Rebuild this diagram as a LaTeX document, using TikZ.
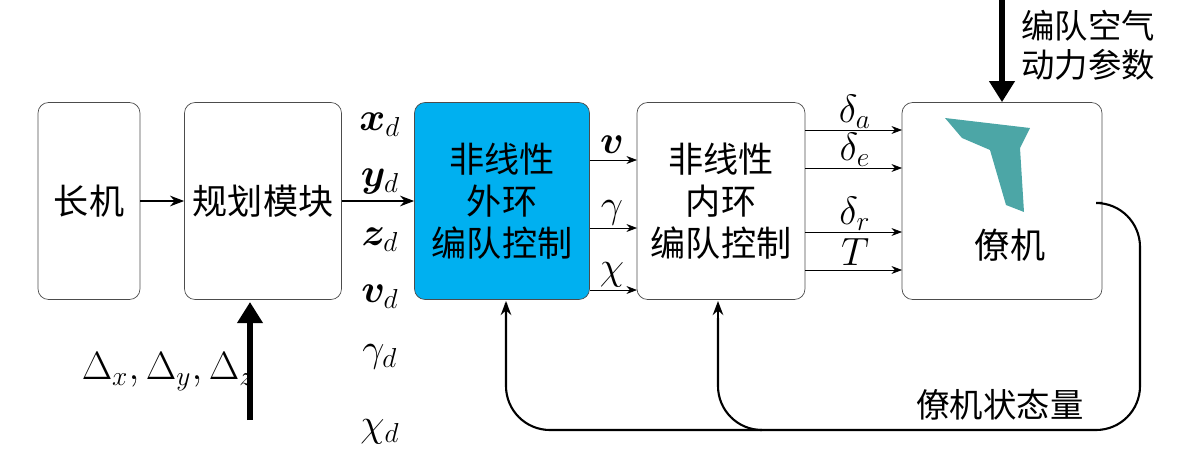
\documentclass[tikz,border=0pt]{standalone}
\usepackage{amsmath,bm}
\usepackage{fontspec}
\setmainfont{Liberation Serif}
\newfontfamily\cjk{Noto Sans CJK SC}
\usetikzlibrary{arrows.meta}
\begin{document}
\begin{tikzpicture}[x=0.02cm,y=-0.02cm,
 blk/.style={draw=black!70,rounded corners=6pt,minimum height=3.94cm,font=\cjk\fontsize{20}{24}\selectfont,align=center},
 arr/.style={-{Stealth[length=8pt]},line width=1.2pt},
 thin arr/.style={-{Stealth[length=6pt]}},
 fat/.style={line width=3.5pt,-{Triangle[length=12pt,width=14pt]}},
 lab/.style={font=\fontsize{18}{20}\selectfont,scale=1.3}]
\useasboundingbox (0,0) rectangle (1200,450);
\node[blk,minimum width=2.04cm] (lead) at (89,201) {长机};
\node[blk,minimum width=3.14cm] (plan) at (263,201) {规划模块};
\node[blk,minimum width=3.5cm,fill={rgb,255:red,0;green,176;blue,240}] (outer) at (502,201) {非线性\\外环\\编队控制};
\node[blk,minimum width=3.36cm] (inner) at (721,201) {非线性\\内环\\编队控制};
\node[blk,minimum width=4cm] (wing) at (1002,201) {};
\node[font=\cjk\fontsize{20}{24}\selectfont] (wl) at (1010,245) {僚机};
\fill[teal!70] (945,118) -- (1030,128) -- (1020,148) -- (1024,212) -- (1006,205) -- (990,150) -- (962,138) -- cycle;
\draw[arr] (lead) -- (plan);
\draw[arr] (plan) -- (outer);
\foreach \y/\t in {125/{\bm{x}_d},182/{\bm{y}_d},240/{\bm{z}_d},297/{\bm{v}_d},357/{\gamma_d},432/{\chi_d}}
 \node[lab] at (380,\y) {$\t$};
\foreach \y/\t in {160/{\bm{v}},228/{\gamma},290/{\chi}}{
 \draw[thin arr] (590,\y) -- (637,\y);
 \node[lab] at (612,\y-15) {$\t$};}
\foreach \y/\t in {130/{\delta_a},168/{\delta_e},232/{\delta_r},270/{T}}{
 \draw[thin arr] (805,\y) -- (902,\y);
 \node[lab] at (855,\y-18) {$\t$};}
\coordinate (top) at (1002,0);
\draw[fat] (top) -- (wing.north);
\node[font=\cjk\fontsize{19}{22}\selectfont,align=left] (aero) at (1088,45) {编队空气\\动力参数};
\coordinate (bot) at (250,420);
\draw[fat] (bot) -- (250,302);
\node[lab] (dl) at (168,372) {$\Delta_x,\Delta_y,\Delta_z$};
\draw[line width=1.2pt,rounded corners=25pt] (1102,203) -- (1140,203) -- (1140,430) -- (506,430) -- (506,303);
\draw[arr] (506,320) -- (506,301);
\draw[line width=1.2pt,rounded corners=25pt] (760,430) -- (718,430) -- (718,318);
\draw[arr] (718,320) -- (718,301);
\node[font=\cjk\fontsize{19}{22}\selectfont] (st) at (1000,405) {僚机状态量};
\end{tikzpicture}
\end{document}
